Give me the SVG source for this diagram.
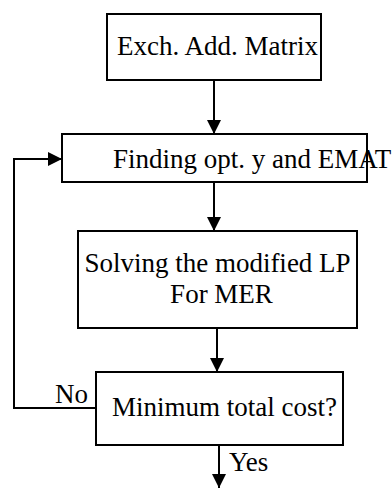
<svg xmlns="http://www.w3.org/2000/svg" width="392" height="488" viewBox="0 0 392 488">
<defs>
<style>
.box{fill:#fff;stroke:#000;stroke-width:2}
.t{font-family:"Liberation Serif","Times New Roman",serif;font-size:27px;fill:#000}
.c{fill:none;stroke:#000;stroke-width:2}
</style>
<marker id="ah" viewBox="0 0 10 10" refX="10" refY="5" markerWidth="15" markerHeight="14" markerUnits="userSpaceOnUse" orient="auto"><path d="M0,0 L10,5 L0,10 Z" fill="#000"/></marker>
</defs>
<rect width="392" height="488" fill="#fff"/>
<g id="connectors">
<line class="c" x1="214" y1="80" x2="214" y2="134" marker-end="url(#ah)"/>
<line class="c" x1="214" y1="182" x2="214" y2="231" marker-end="url(#ah)"/>
<line class="c" x1="217" y1="328" x2="217" y2="372" marker-end="url(#ah)"/>
<polyline class="c" points="96,408 14,408 14,159 62,159" marker-end="url(#ah)"/>
<line class="c" x1="219" y1="445" x2="219" y2="488" marker-end="url(#ah)"/>
<text class="t" x="55" y="403">No</text>
<text class="t" x="229" y="471">Yes</text>
</g>
<g id="n1"><rect class="box" x="107" y="14" width="214" height="66"/><text class="t" x="117" y="55">Exch. Add. Matrix</text></g>
<g id="n2"><rect class="box" x="62" y="134" width="305" height="48"/><text class="t" x="113" y="168">Finding opt. y and EMAT</text></g>
<g id="n3"><rect class="box" x="78" y="231" width="279" height="97"/><text class="t" text-anchor="middle" x="217.5" y="272">Solving the modified LP</text><text class="t" text-anchor="middle" x="221.5" y="303">For MER</text></g>
<g id="n4"><rect class="box" x="96" y="372" width="247" height="73"/><text class="t" x="112" y="416">Minimum total cost?</text></g>
</svg>
